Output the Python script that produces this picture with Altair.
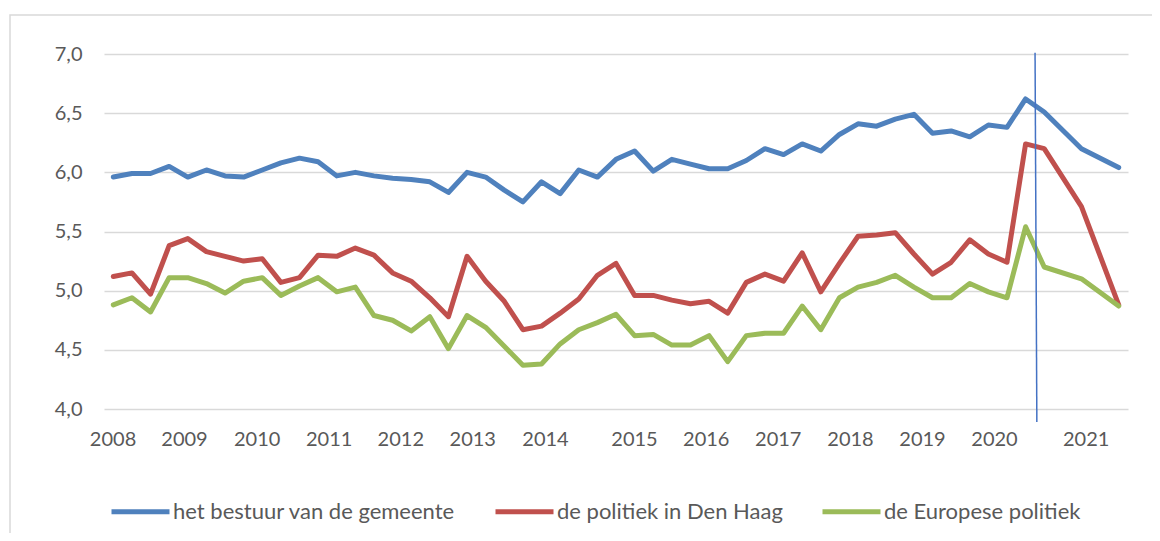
import altair as alt
import pandas as pd

# ---- data -------------------------------------------------------------
periods = [f"{y}-Q{q}" for y in range(2008, 2021) for q in (1, 2, 3, 4)][:-1] + ["2021-Q1", "2021-Q3"]

series_names = ["het bestuur van de gemeente", "de politiek in Den Haag", "de Europese politiek"]
series_colors = ["#4F81BD", "#C0504D", "#9BBB59"]

gemeente = [5.96, 5.99, 5.99, 6.05, 5.96, 6.02, 5.97, 5.96, 6.02, 6.08,
            6.12, 6.09, 5.97, 6.00, 5.97, 5.95, 5.94, 5.92, 5.83, 6.00,
            5.96, 5.85, 5.75, 5.92, 5.82, 6.02, 5.96, 6.11, 6.18, 6.01,
            6.11, 6.07, 6.03, 6.03, 6.10, 6.20, 6.15, 6.24, 6.18, 6.32,
            6.41, 6.39, 6.45, 6.49, 6.33, 6.35, 6.30, 6.40, 6.38, 6.62,
            6.51, 6.20, 6.04]
den_haag = [5.12, 5.15, 4.97, 5.38, 5.44, 5.33, 5.29, 5.25, 5.27, 5.07,
            5.11, 5.30, 5.29, 5.36, 5.30, 5.15, 5.08, 4.94, 4.78, 5.29,
            5.08, 4.91, 4.67, 4.70, 4.81, 4.93, 5.13, 5.23, 4.96, 4.96,
            4.92, 4.89, 4.91, 4.81, 5.07, 5.14, 5.08, 5.32, 4.99, 5.23,
            5.46, 5.47, 5.49, 5.31, 5.14, 5.24, 5.43, 5.31, 5.24, 6.24,
            6.20, 5.71, 4.88]
europa = [4.88, 4.94, 4.82, 5.11, 5.11, 5.06, 4.98, 5.08, 5.11, 4.96,
          5.04, 5.11, 4.99, 5.03, 4.79, 4.75, 4.66, 4.78, 4.51, 4.79,
          4.69, 4.53, 4.37, 4.38, 4.55, 4.67, 4.73, 4.80, 4.62, 4.63,
          4.54, 4.54, 4.62, 4.40, 4.62, 4.64, 4.64, 4.87, 4.67, 4.94,
          5.03, 5.07, 5.13, 5.03, 4.94, 4.94, 5.06, 4.99, 4.94, 5.54,
          5.20, 5.10, 4.87]

year_labels = [2008, 2009, 2010, 2011, 2012, 2013, 2014, 2015, 2016, 2017, 2018, 2019, 2020, 2021]
y_ticks = [4.0, 4.5, 5.0, 5.5, 6.0, 6.5, 7.0]

# marker line (slightly slanted, as drawn in the original)
marker_x = [2020.377]
marker_x2 = [2020.401]
marker_y = [7.01]
marker_y2 = [3.89]

# ---- build table ------------------------------------------------------
def to_t(p):
    y, q = p.split("-Q")
    return int(y) + (int(q) - 1) / 4.0

rows = []
for name, vals in zip(series_names, [gemeente, den_haag, europa]):
    for p, v in zip(periods, vals):
        rows.append({"periode": p, "t": to_t(p), "serie": name, "waarde": v})
df = pd.DataFrame(rows)

marker_df = pd.DataFrame({"x": marker_x, "x2": marker_x2, "y": marker_y, "y2": marker_y2})

# tick label positions as placed by the original category axis
label_pos = [2007.99, 2008.949, 2009.925, 2010.892, 2011.854, 2012.82, 2013.797,
             2014.992, 2015.955, 2016.922, 2017.892, 2018.859, 2019.826, 2021.057]

FONT = "Lato"
TXT = "#595959"

x_scale = alt.Scale(domain=[2007.875, 2021.625], nice=False, zero=False)
y_scale = alt.Scale(domain=[4, 7], nice=False, zero=False)

lines = alt.Chart(df).mark_line(strokeWidth=5, strokeJoin="round", strokeCap="round").encode(
    x=alt.X("t:Q", scale=x_scale, title=None,
            axis=alt.Axis(values=label_pos, labelExpr="format(round(datum.value), 'd')",
                          grid=False, ticks=False, domain=False, labelFont=FONT,
                          labelFontSize=20, labelColor=TXT, labelPadding=20,
                          labelFlush=False, labelOverlap=False)),
    y=alt.Y("waarde:Q", scale=y_scale, title=None,
            axis=alt.Axis(values=y_ticks, labelExpr="replace(format(datum.value, '.1f'), '.', ',')",
                          grid=True, gridColor="#D9D9D9", gridWidth=1.5, ticks=False,
                          domain=False, labelFont=FONT, labelFontSize=20, labelColor=TXT,
                          labelPadding=22)),
    color=alt.Color("serie:N", scale=alt.Scale(domain=series_names, range=series_colors),
                    legend=alt.Legend(title=None, orient="none", direction="horizontal",
                                      legendX=5, legendY=426, symbolType="stroke",
                                      symbolSize=3364, symbolStrokeWidth=5,
                                      labelFont=FONT, labelFontSize=22, labelColor=TXT,
                                      labelOffset=1, columnPadding=29, labelLimit=500)),
    detail="serie:N",
)

marker = alt.Chart(marker_df).mark_rule(color="#4472C4", strokeWidth=1.5).encode(
    x=alt.X("x:Q", scale=x_scale), x2="x2:Q",
    y=alt.Y("y:Q", scale=y_scale), y2="y2:Q",
)

border = alt.Chart(pd.DataFrame({"a": [0]})).mark_rect(
    fillOpacity=0, stroke="#D9D9D9", strokeWidth=1.5
).encode(x=alt.value(-94), x2=alt.value(1200), y=alt.value(-39), y2=alt.value(700))

chart = alt.layer(border, lines, marker).properties(
    width=1024, height=355,
    padding={"left": 96, "top": 46, "right": 24, "bottom": 124},
    autosize=alt.AutoSizeParams(type="none"),
    background="white",
).configure_view(strokeWidth=0)

chart.save("out.html", embed_options={"renderer": "svg", "actions": False})
